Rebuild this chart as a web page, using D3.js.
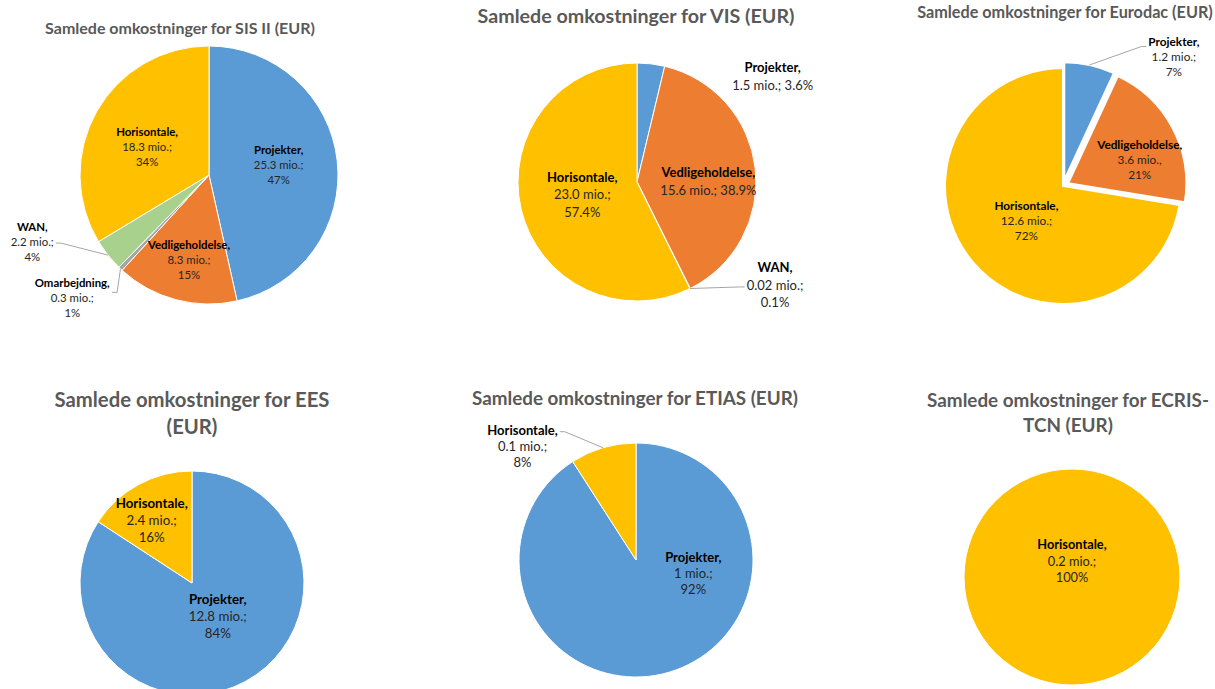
<!DOCTYPE html>
<html>
<head>
<meta charset="utf-8">
<script src="https://cdn.jsdelivr.net/npm/d3@7"></script>
<style>
  body { margin: 0; background: #fff; }
  svg { display: block; font-family: Lato, "Open Sans", sans-serif; }
</style>
</head>
<body>
<svg width="1215" height="689"></svg>
<script>
// --- data ---
const sisNames = ["Projekter", "Vedligeholdelse", "Omarbejdning", "WAN", "Horisontale"];
const sisValues = [25.3, 8.3, 0.3, 2.2, 18.3];
const sisAmounts = ["25.3 mio.;", "8.3 mio.;", "0.3 mio.;", "2.2 mio.;", "18.3 mio.;"];
const sisPcts = ["47%", "15%", "1%", "4%", "34%"];

const visNames = ["Projekter", "Vedligeholdelse", "WAN", "Horisontale"];
const visValues = [1.5, 15.6, 0.02, 23.0];
const visAmounts = ["1.5 mio.;", "15.6 mio.;", "0.02 mio.;", "23.0 mio.;"];
const visPcts = ["3.6%", "38.9%", "0.1%", "57.4%"];

const euroNames = ["Projekter", "Vedligeholdelse", "Horisontale"];
const euroValues = [1.2, 3.6, 12.6];
const euroAmounts = ["1.2 mio.;", "3.6 mio.,", "12.6 mio.;"];
const euroPcts = ["7%", "21%", "72%"];

const eesNames = ["Projekter", "Horisontale"];
const eesValues = [12.8, 2.4];
const eesAmounts = ["12.8 mio.;", "2.4 mio.;"];
const eesPcts = ["84%", "16%"];

const etiasNames = ["Projekter", "Horisontale"];
const etiasValues = [1, 0.1];
const etiasAmounts = ["1 mio.;", "0.1 mio.;"];
const etiasPcts = ["92%", "8%"];

const ecrisNames = ["Horisontale"];
const ecrisValues = [0.2];
const ecrisAmounts = ["0.2 mio.;"];
const ecrisPcts = ["100%"];

const color = d3.scaleOrdinal()
  .domain(["Projekter", "Vedligeholdelse", "Omarbejdning", "WAN", "Horisontale"])
  .range(["#5b9bd5", "#ed7d31", "#a5a5a5", "#a9d18e", "#ffc000"]);

// --- layout of the six panels ---
const charts = [
  { title: ["Samlede omkostninger for SIS II (EUR)"], tx: 180, ty: 28, tw: 270,
    names: sisNames, values: sisValues, amounts: sisAmounts, pcts: sisPcts,
    cx: 209, cy: 175, r: 129, fs: 11.4, lh: 15,
    pos: [[0.54, -0.19], [-0.155, 0.54], [-1.06, 0.84], [-1.37, 0.40], [-0.48, -0.33]],
    leaders: [{ i: 2, k: 0.6 }, { i: 3, k: 1.1 }] },
  { title: ["Samlede omkostninger for VIS (EUR)"], tx: 636, ty: 16, tw: 317,
    names: visNames, values: visValues, amounts: visAmounts, pcts: visPcts,
    cx: 637, cy: 182, r: 119, fs: 13, lh: 17.5,
    pos: [[1.14, -0.96], [0.60, -0.08], [1.16, 0.72], [-0.46, -0.04]],
    oneLine: [0, 1],
    leaders: [{ i: 2, k: 1.1 }] },
  { title: ["Samlede omkostninger for Eurodac (EUR)"], tx: 1065, ty: 12, tw: 296,
    names: euroNames, values: euroValues, amounts: euroAmounts, pcts: euroPcts,
    cx: 1063, cy: 186, r: 118, fs: 11.8, lh: 15,
    pos: [[0.94, -1.22], [0.65, -0.35], [-0.31, 0.17]],
    explode: [0, 1],
    leaders: [{ i: 0, k: 0.3 }] },
  { title: ["Samlede omkostninger for EES", "(EUR)"], tx: 192, ty: 400, tw: 275, tlh: 27,
    names: eesNames, values: eesValues, amounts: eesAmounts, pcts: eesPcts,
    cx: 192, cy: 583, r: 112, fs: 13.3, lh: 17,
    pos: [[0.23, 0.15], [-0.36, -0.71]] },
  { title: ["Samlede omkostninger for ETIAS (EUR)"], tx: 635, ty: 398, tw: 326,
    names: etiasNames, values: etiasValues, amounts: etiasAmounts, pcts: etiasPcts,
    cx: 636, cy: 560, r: 117, fs: 13, lh: 16,
    pos: [[0.49, -0.02], [-0.97, -1.11]],
    leaders: [{ i: 1, k: 0.1 }] },
  { title: ["Samlede omkostninger for ECRIS-", "TCN (EUR)"], tx: 1068, ty: 400, tw: 282, tlh: 25,
    names: ecrisNames, values: ecrisValues, amounts: ecrisAmounts, pcts: ecrisPcts,
    cx: 1072, cy: 577, r: 108, fs: 12.8, lh: 16.5,
    pos: [[0, -0.30]] }
];

const svg = d3.select("svg");
const explodeBy = 6;

charts.forEach(c => {
  // title, scaled to the width it has in the picture
  const title = svg.append("text")
    .attr("text-anchor", "middle")
    .attr("fill", "#595959")
    .attr("font-weight", "bold")
    .attr("font-size", 20);
  c.title.forEach((t, j) => {
    title.append("tspan")
      .attr("x", c.tx)
      .attr("y", c.ty + j * (c.tlh || 0))
      .attr("dy", "0.35em")
      .text(t);
  });
  const firstLen = title.select("tspan").node().getComputedTextLength();
  title.attr("font-size", 20 * c.tw / firstLen);

  const data = c.names.map((n, i) => ({
    name: n, value: c.values[i], amount: c.amounts[i], pct: c.pcts[i], idx: i
  }));
  const arcs = d3.pie().sort(null).value(d => d.value)(data);
  const arc = d3.arc().innerRadius(0).outerRadius(c.r);
  const explode = c.explode || [];

  const shift = a => {
    if (!explode.includes(a.index)) return [0, 0];
    const m = (a.startAngle + a.endAngle) / 2;
    return [Math.sin(m) * explodeBy, -Math.cos(m) * explodeBy];
  };

  const g = svg.append("g").attr("transform", `translate(${c.cx},${c.cy})`);

  g.selectAll("path.slice")
    .data(arcs)
    .join("path")
    .attr("class", "slice")
    .attr("d", arc)
    .attr("transform", a => `translate(${shift(a)})`)
    .attr("fill", a => color(a.data.name))
    .attr("stroke", "#fff")
    .attr("stroke-width", c.explode ? 2 : 1);

  // data labels
  const labels = g.selectAll("text.lbl")
    .data(arcs)
    .join("text")
    .attr("class", "lbl")
    .attr("text-anchor", "middle")
    .attr("font-size", c.fs);

  labels.each(function (a) {
    const p = c.pos[a.index];
    const x = p[0] * c.r, y = p[1] * c.r;
    const one = (c.oneLine || []).includes(a.index);
    const lines = one
      ? [a.data.name + ",", a.data.amount + " " + a.data.pct]
      : [a.data.name + ",", a.data.amount, a.data.pct];
    const t = d3.select(this);
    lines.forEach((s, j) => {
      t.append("tspan")
        .attr("x", x)
        .attr("y", y + j * c.lh)
        .attr("dy", "0.35em")
        .attr("font-weight", j === 0 ? "bold" : "normal")
        .attr("fill", j === 0 ? "#000" : "#262626")
        .text(s);
    });
  });

  // leader lines for the labels placed outside
  (c.leaders || []).forEach(L => {
    const a = arcs[L.i];
    const node = labels.filter(d => d.index === L.i).node();
    const bb = node.getBBox();
    const m = (a.startAngle + a.endAngle) / 2;
    const s = shift(a);
    const ex = Math.sin(m) * c.r + s[0], ey = -Math.cos(m) * c.r + s[1];
    const ly = c.pos[L.i][1] * c.r + L.k * c.lh;
    const right = ex > bb.x + bb.width;
    const lx = right ? bb.x + bb.width + 2 : bb.x - 2;
    const hx = right ? lx + 5 : lx - 5;
    g.append("path")
      .attr("d", d3.line()([[lx, ly], [hx, ly], [ex, ey]]))
      .attr("fill", "none")
      .attr("stroke", "#a6a6a6")
      .attr("stroke-width", 1);
  });
});
</script>
</body>
</html>
